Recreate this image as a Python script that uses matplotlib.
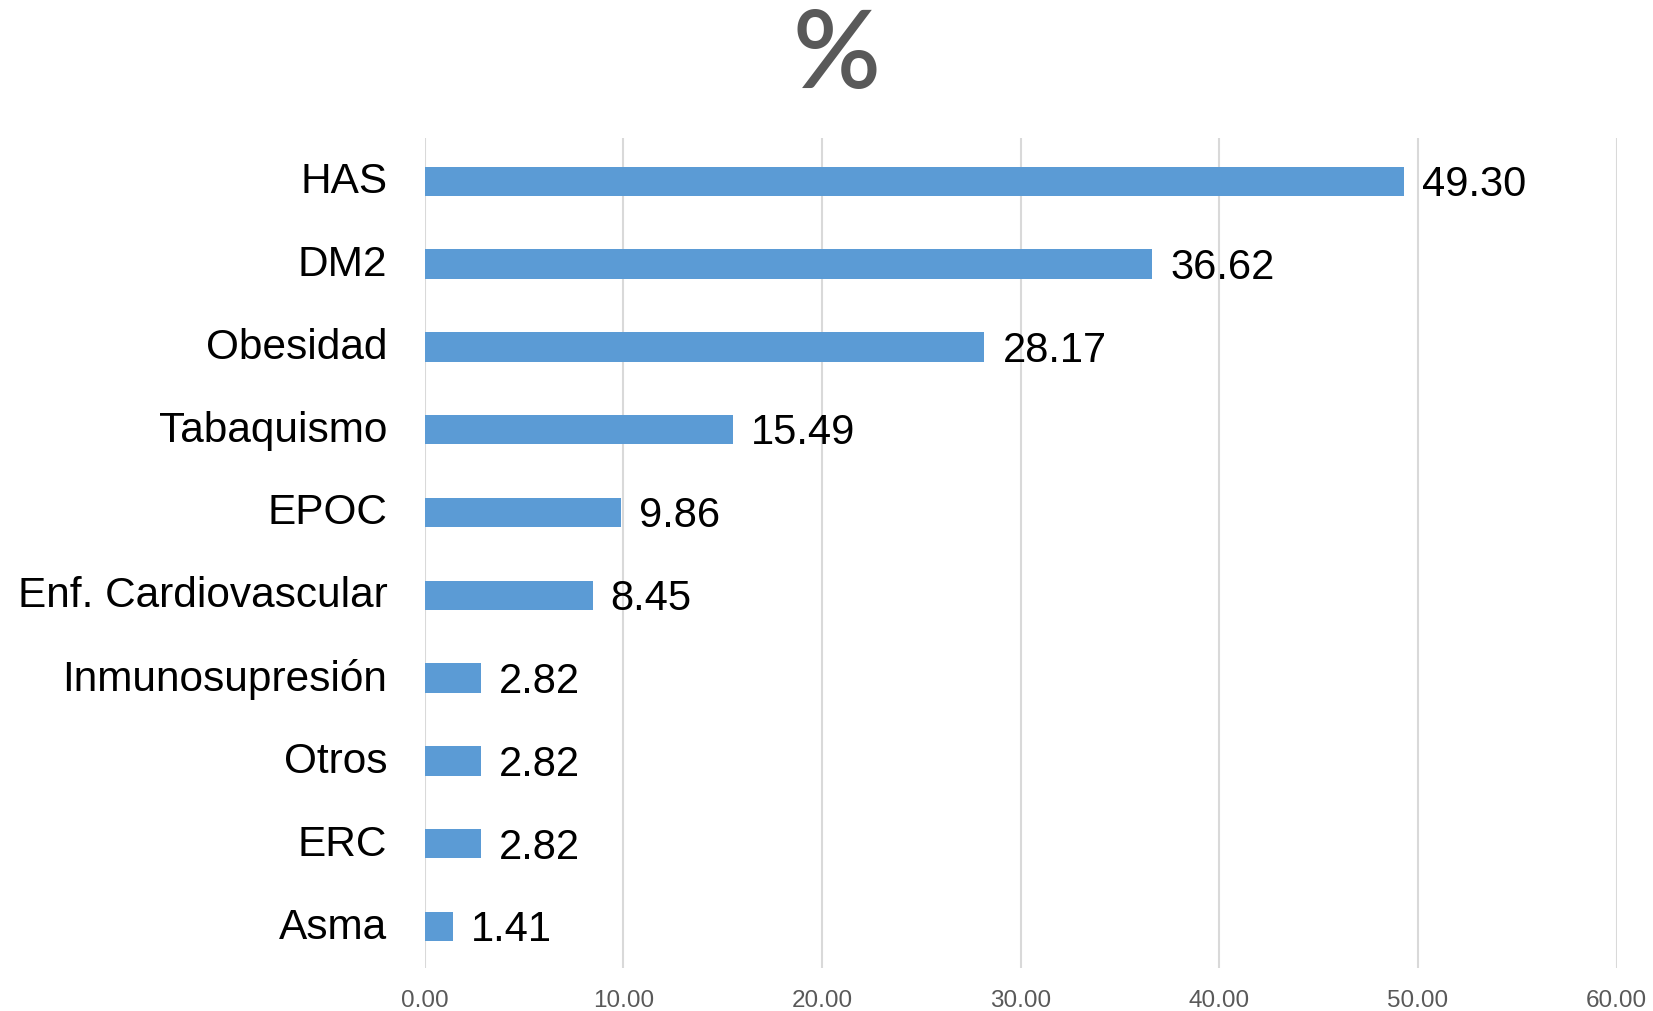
import matplotlib.pyplot as plt

categories = ["HAS", "DM2", "Obesidad", "Tabaquismo", "EPOC", "Enf. Cardiovascular",
              "Inmunosupresión", "Otros", "ERC", "Asma"]
values = [49.30, 36.62, 28.17, 15.49, 9.86, 8.45, 2.82, 2.82, 2.82, 1.41]
xticks = [0, 10, 20, 30, 40, 50, 60]

plt.rcParams["font.family"] = ["Liberation Sans", "DejaVu Sans"]

fig = plt.figure(figsize=(16.53, 10.12), dpi=100)
ax = fig.add_axes([0.257, 0.0425, 0.721, 0.820])

pos = list(range(len(categories)))
ax.barh(pos, values, height=0.355, color="#5B9BD5", zorder=3)
for p, v in zip(pos, values):
    ax.annotate(f"{v:.2f}", (v, p), xytext=(13, -2), textcoords="offset points",
                ha="left", va="center", fontsize=30, color="black")

ax.set_xlim(0, 60)
ax.set_ylim(9.5, -0.52)
ax.set_yticks(pos)
ax.set_yticklabels(categories, fontsize=30.5)
for lbl in ax.get_yticklabels():
    lbl.set_va("center")
ax.set_xticks(xticks)
ax.set_xticklabels([f"{t:.2f}" for t in xticks], fontsize=17.5, color="#595959")
ax.tick_params(axis="y", length=0, pad=27)
ax.tick_params(axis="x", length=0, pad=15)
ax.grid(axis="x", color="#D9D9D9", linewidth=1.5, zorder=0)
for s in ax.spines.values():
    s.set_visible(False)

fig.text(0.506, 0.944, "%", ha="center", va="center", fontsize=78,
         color="#595959", family="Lato", fontweight="semibold")

fig.savefig("out.png", dpi=100)
